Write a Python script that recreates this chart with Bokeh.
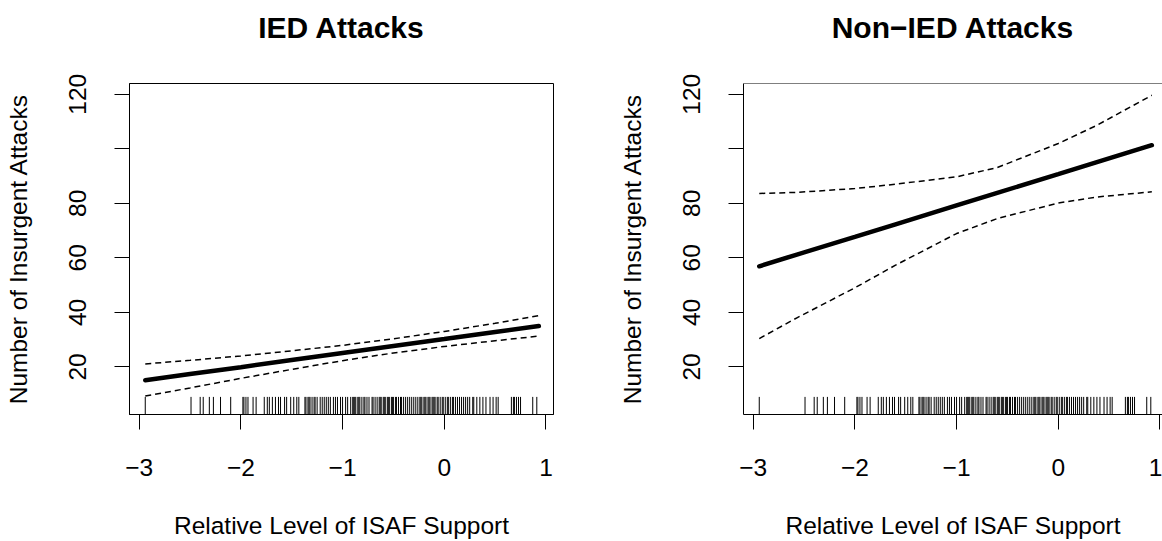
from bokeh.plotting import figure
from bokeh.models import FixedTicker, Range1d, Span, ColumnDataSource, LinearAxis
from bokeh.layouts import row
from bokeh.embed import file_html
from bokeh.resources import INLINE

FONT = "Liberation Sans"

# ---------------- data ----------------
titles = ["IED Attacks", "Non\u2212IED Attacks"]
x_label = "Relative Level of ISAF Support"
y_label = "Number of Insurgent Attacks"

x_ticks = [-3, -2, -1, 0, 1]
x_tick_labels = ["\u22123", "\u22122", "\u22121", "0", "1"]
y_ticks = [20, 40, 60, 80, 100, 120]
y_tick_labels = ["20", "40", "60", "80", "", "120"]

# IED attacks: fitted line and dashed confidence band
ied_x = [-2.94, -2.5, -2.0, -1.5, -1.0, -0.5, 0.0, 0.5, 0.93]
ied_fit = [15.1, 17.4, 19.9, 22.5, 25.1, 27.7, 30.2, 32.8, 35.0]
ied_upper = [21.1, 22.4, 24.0, 25.9, 27.9, 30.3, 33.0, 36.0, 38.8]
ied_lower = [9.3, 12.3, 15.8, 19.1, 22.3, 25.1, 27.5, 29.6, 31.3]

# Non-IED attacks
non_x = [-2.94, -2.57, -2.0, -1.6, -1.0, -0.6, 0.0, 0.38, 0.92]
non_fit = [56.9, 61.2, 67.7, 72.3, 79.2, 83.8, 90.7, 95.1, 101.3]
non_upper = [83.6, 84.0, 85.4, 87.0, 89.7, 93.1, 101.9, 108.6, 119.6]
non_lower = [30.4, 38.0, 49.0, 57.3, 68.9, 74.4, 80.1, 82.3, 84.2]

# rug: observed levels of ISAF support
rug_x = [
    -2.94, -2.49, -2.40, -2.37, -2.31, -2.27, -2.20, -2.10,
    -1.98, -1.97, -1.95, -1.93, -1.88, -1.85, -1.77, -1.74, -1.72, -1.69,
    -1.66, -1.63, -1.61, -1.57, -1.55, -1.51, -1.48, -1.45, -1.43, -1.37,
    -1.36, -1.34, -1.33, -1.32, -1.30, -1.28, -1.27, -1.25, -1.22, -1.20,
    -1.18, -1.16, -1.14, -1.12, -1.09, -1.07, -1.05, -1.02, -1.00, -0.97,
    -0.95, -0.92, -0.90, -0.89, -0.88, -0.87, -0.85, -0.84, -0.83, -0.81,
    -0.79, -0.78, -0.76, -0.74, -0.71, -0.70, -0.68, -0.66, -0.64, -0.63,
    -0.62, -0.60, -0.59, -0.58, -0.56, -0.55, -0.54, -0.52, -0.51, -0.50,
    -0.48, -0.47, -0.45, -0.43, -0.42, -0.40, -0.38, -0.36, -0.34, -0.32,
    -0.30, -0.28, -0.26, -0.24, -0.23, -0.22, -0.20, -0.19, -0.18, -0.16,
    -0.15, -0.14, -0.12, -0.11, -0.10, -0.09, -0.07, -0.06, -0.04, -0.02,
    -0.01, 0.01, 0.03, 0.04, 0.06, 0.08, 0.09, 0.11, 0.13, 0.15, 0.17,
    0.19, 0.21, 0.23, 0.25, 0.28, 0.29, 0.32, 0.35, 0.38, 0.41, 0.45, 0.48,
    0.51, 0.53, 0.66, 0.68, 0.69, 0.71, 0.73, 0.75, 0.87, 0.91,
]

# ---------------- layout / style ----------------
X_START = -3.095
Y_START, Y_END = 2.55, 123.92
HEIGHT = 541
TOP, BOTTOM = 83, 127                     # frame borders (px)
FRAME_H = HEIGHT - TOP - BOTTOM
PX_PER_Y = FRAME_H / (Y_END - Y_START)
PX_PER_X = 101.7
RUG_LEN = 17.6 / PX_PER_Y
TEXT_SIZE = "24.5px"
TITLE_SIZE = "30px"


def style_text_axis(ax):
    ax.major_label_text_font = FONT
    ax.major_label_text_font_size = TEXT_SIZE
    ax.major_label_text_color = "black"
    ax.axis_label_text_font = FONT
    ax.axis_label_text_color = "black"
    ax.minor_tick_line_color = None


def make_panel(title, xs, fit, upper, lower, width, min_left, min_right,
               full_box):
    x_end = X_START + (width - min_left - min_right) / PX_PER_X
    p = figure(width=width, height=HEIGHT, output_backend="svg",
               toolbar_location=None,
               x_range=Range1d(X_START, x_end), y_range=Range1d(Y_START, Y_END),
               min_border_left=min_left, min_border_right=min_right,
               min_border_top=TOP, min_border_bottom=BOTTOM)
    p.background_fill_color = "white"
    p.border_fill_color = "white"
    p.grid.visible = False
    if full_box:
        p.outline_line_color = "black"
        p.outline_line_width = 1
    else:
        p.outline_line_color = None
        p.add_layout(Span(location=Y_END, dimension="width",
                          line_color="black", line_width=1))

    xa = p.below[0]
    ya = p.left[0]
    xa.ticker = FixedTicker(ticks=x_ticks)
    xa.major_label_overrides = {t: l for t, l in zip(x_ticks, x_tick_labels)}
    xa.axis_label = x_label
    ya.ticker = FixedTicker(ticks=y_ticks)
    ya.major_label_overrides = {t: l for t, l in zip(y_ticks, y_tick_labels)}
    ya.major_label_orientation = "parallel"
    ya.axis_label = y_label
    for ax in (xa, ya):
        style_text_axis(ax)
        ax.axis_label_text_font_size = TEXT_SIZE
        ax.axis_label_text_font_style = "normal"
        ax.axis_line_color = "black"
        ax.axis_line_width = 1
        ax.major_tick_line_color = "black"
        ax.major_tick_line_width = 1
        ax.major_tick_out = 15
        ax.major_tick_in = 0
    xa.major_label_standoff = 29
    xa.axis_label_standoff = 33
    ya.major_label_standoff = 28
    ya.axis_label_standoff = 35

    # title: carried by an axis above the frame without ticks
    ta = LinearAxis(ticker=FixedTicker(ticks=[]), axis_line_color=None,
                    major_tick_line_color=None, major_tick_out=0,
                    major_tick_in=0, major_label_standoff=0,
                    axis_label=title, axis_label_standoff=40)
    style_text_axis(ta)
    ta.axis_label_text_font_size = TITLE_SIZE
    ta.axis_label_text_font_style = "bold"
    p.add_layout(ta, "above")

    # rug
    n = len(rug_x)
    p.segment(x0=rug_x, y0=[Y_START] * n, x1=rug_x, y1=[Y_START + RUG_LEN] * n,
              line_color="black", line_width=1)

    src = ColumnDataSource(dict(x=xs, fit=fit, up=upper, lo=lower))
    p.line("x", "up", source=src, line_color="black", line_width=1.5,
           line_dash="6 4")
    p.line("x", "lo", source=src, line_color="black", line_width=1.5,
           line_dash="6 4")
    p.line("x", "fit", source=src, line_color="black", line_width=4.5,
           line_cap="round")
    return p


TOTAL_W = 1162
left_w = 608
p1 = make_panel(titles[0], ied_x, ied_fit, ied_upper, ied_lower,
                width=left_w, min_left=129, min_right=55, full_box=True)
p2 = make_panel(titles[1], non_x, non_fit, non_upper, non_lower,
                width=TOTAL_W - left_w, min_left=135, min_right=0,
                full_box=False)

layout = row(p1, p2)
open("out.html", "w").write(file_html(layout, INLINE))
